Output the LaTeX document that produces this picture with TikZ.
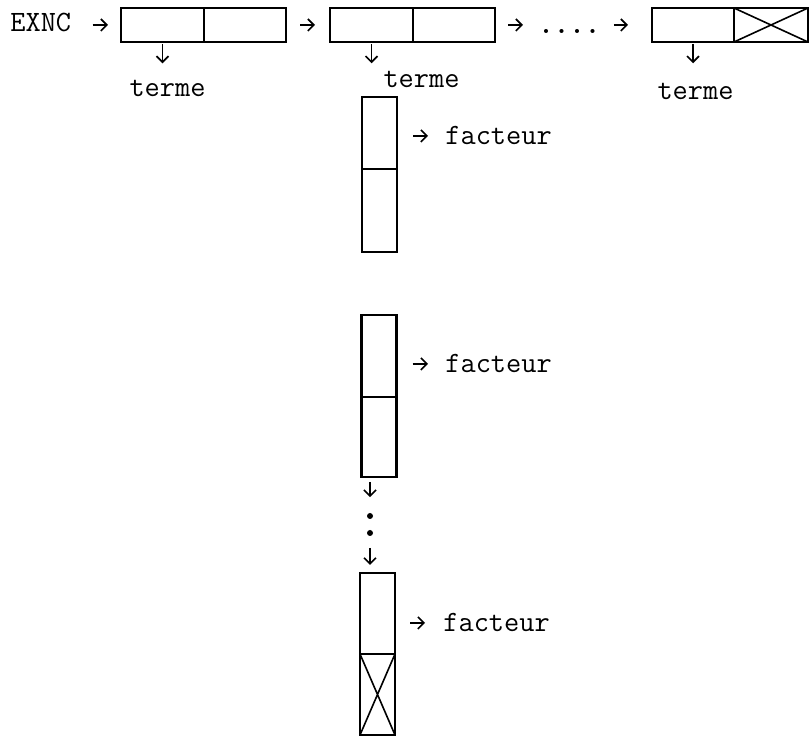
\documentclass[tikz,border=0pt]{standalone}
\usetikzlibrary{positioning,arrows.meta}

\tikzset{
  cell/.style={draw, line width=1.2pt, inner sep=0pt, outer sep=0pt},
  hcell/.style={cell, minimum height=17pt},
  vcell/.style={cell, minimum width=17.5pt},
  nil/.style={path picture={\draw[line width=0.8pt] (path picture bounding box.north west) -- (path picture bounding box.south east) (path picture bounding box.south west) -- (path picture bounding box.north east);}},
  lbl/.style={inner sep=0pt, font=\fontsize{14.75}{17}\selectfont\ttfamily},
  ptr/.style={-{Straight Barb[length=3pt,width=6pt]}, line width=0.8pt},
  vdot/.style={circle, fill, inner sep=0pt, minimum size=3pt},
}

\begin{document}
\begin{tikzpicture}[x=0.5pt, y=-0.5pt]
        \useasboundingbox (0,0) rectangle (810,737);
        % list of terms
        \node[lbl, anchor=base west] (exnc) at (10,32) {EXNC};
        \node[hcell, minimum width=41.5pt] (t1a) at (162.5,25) {};
        \node[hcell, minimum width=41pt, right=0pt of t1a] (t1b) {};
        \node[hcell, minimum width=41.5pt] (t2a) at (371.5,25) {};
        \node[hcell, minimum width=41pt, right=0pt of t2a] (t2b) {};
        \node[lbl, anchor=base west] (dots) at (538,34) {\bfseries ....};
        \node[hcell, minimum width=41pt] (t3a) at (693,25) {};
        \node[hcell, nil, minimum width=37pt, right=0pt of t3a] (t3b) {};
        \node[lbl, anchor=base] (term1) at (167.5,97) {terme};
        \node[lbl, anchor=base] (term2) at (421.5,88) {terme};
        \node[lbl, anchor=base] (term3) at (695.5,100) {terme};
        \draw[ptr, shorten <=10.5pt, shorten >=6.5pt] (exnc.east |- t1a.west) -- (t1a.west);
        \draw[ptr, shorten <=7pt, shorten >=7.5pt] (t1b.east) -- (t2a.west);
        \draw[ptr, shorten <=6.5pt, shorten >=7.5pt] (t2b.east) -- (t2b.east -| dots.west);
        \draw[ptr, shorten <=6.5pt, shorten >=12pt] (dots.east |- t3a.west) -- (t3a.west);
        \draw[ptr, shorten <=1pt, shorten >=8.5pt] (t1a.south) -- (t1a.south |- term1.north);
        \draw[ptr, shorten <=1pt, shorten >=4pt] (t2a.south) -- (t2a.south |- term2.north);
        \draw[ptr, shorten <=1pt, shorten >=10pt] (t3a.south) -- (t3a.south |- term3.north);
        % list of factors
        \node[vcell, minimum height=36pt] (v1a) at (379.5,133) {};
        \node[vcell, minimum height=41.5pt, below=0pt of v1a] (v1b) {};
        \node[vcell, minimum height=41pt] (v2a) at (379,356) {};
        \node[vcell, minimum height=40pt, below=0pt of v2a] (v2b) {};
        \node[vcell, minimum height=40.5pt] (v3a) at (377.5,613.5) {};
        \node[vcell, nil, minimum height=40.5pt, below=0pt of v3a] (v3b) {};
        \node[lbl, anchor=base west] (fact1) at (445,145) {facteur};
        \node[lbl, anchor=base west] (fact2) at (445,373) {facteur};
        \node[lbl, anchor=base west] (fact3) at (443,632) {facteur};
        \node[vdot] (d1) at (370,516) {};
        \node[vdot] (d2) at (370,533) {};
        \draw[ptr, shorten <=8pt, shorten >=8.5pt] (fact1.west -| v1a.east) -- (fact1.west);
        \draw[ptr, shorten <=8pt, shorten >=8.5pt] (fact2.west -| v2a.east) -- (fact2.west);
        \draw[ptr, shorten <=7.5pt, shorten >=9pt] (fact3.west -| v3a.east) -- (fact3.west);
        \draw[ptr, shorten <=2.5pt, shorten >=7.75pt] (d1 |- v2b.south) -- (d1.north);
        \draw[ptr, shorten <=5.75pt, shorten >=4pt] (d2.south) -- (d2 |- v3a.north);
    \end{tikzpicture}
\end{document}
